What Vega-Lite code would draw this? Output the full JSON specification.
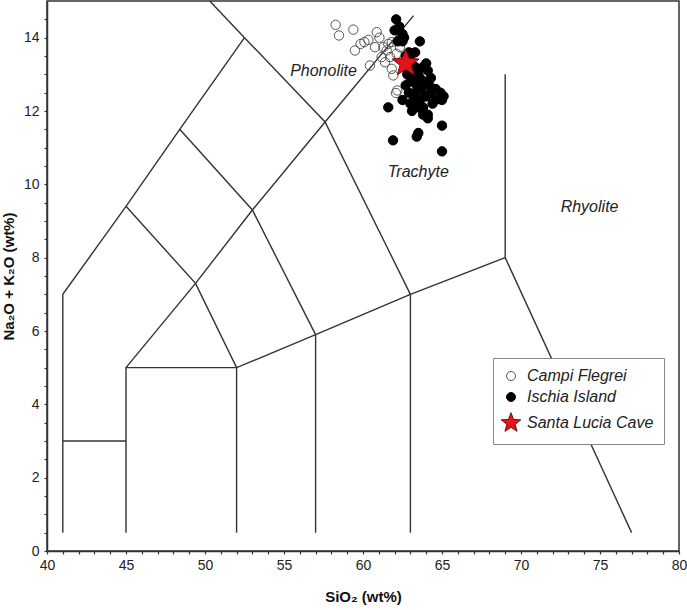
{
  "$schema": "https://vega.github.io/schema/vega-lite/v6.json",
  "width": 632,
  "height": 550,
  "autosize": {"type": "none"},
  "padding": {"left": 47, "top": 1, "right": 8, "bottom": 59},
  "background": "white",
  "config": {
    "view": {"stroke": "#333", "strokeWidth": 1.5},
    "axis": {"domainColor": "#333", "domainWidth": 1.5, "tickColor": "#333", "tickWidth": 1.2, "labelFont": "Liberation Sans", "labelFontSize": 14, "labelColor": "#222", "titleFont": "Liberation Sans", "titleColor": "#111", "grid": false},
    "legend": {"orient": "none", "legendX": 446, "legendY": 357, "fillColor": "white", "strokeColor": "#888", "padding": 10, "rowPadding": 5, "symbolSize": 80, "symbolStrokeWidth": 1, "labelOffset": 8, "labelFont": "Liberation Sans", "labelFontSize": 16, "labelFontStyle": "italic", "labelColor": "#222"}
  },
  "resolve": {"axis": {"x": "independent", "y": "independent"}},
  "datasets": {
    "seglines": [
      {"s": "A", "o": 1, "x": 41, "y": 0.5}, {"s": "A", "o": 2, "x": 41, "y": 7}, {"s": "A", "o": 3, "x": 45, "y": 9.4}, {"s": "A", "o": 4, "x": 48.4, "y": 11.5}, {"s": "A", "o": 5, "x": 52.5, "y": 14},
      {"s": "B", "o": 1, "x": 41, "y": 3}, {"s": "B", "o": 2, "x": 45, "y": 3},
      {"s": "C", "o": 1, "x": 45, "y": 0.5}, {"s": "C", "o": 2, "x": 45, "y": 5}, {"s": "C", "o": 3, "x": 52, "y": 5},
      {"s": "E", "o": 1, "x": 52, "y": 0.5}, {"s": "E", "o": 2, "x": 52, "y": 5}, {"s": "E", "o": 3, "x": 57, "y": 5.9}, {"s": "E", "o": 4, "x": 63, "y": 7}, {"s": "E", "o": 5, "x": 69, "y": 8}, {"s": "E", "o": 6, "x": 77, "y": 0.5},
      {"s": "F", "o": 1, "x": 57, "y": 0.5}, {"s": "F", "o": 2, "x": 57, "y": 5.9},
      {"s": "G", "o": 1, "x": 63, "y": 0.5}, {"s": "G", "o": 2, "x": 63, "y": 7},
      {"s": "H", "o": 1, "x": 69, "y": 8}, {"s": "H", "o": 2, "x": 69, "y": 13},
      {"s": "I", "o": 1, "x": 45, "y": 5}, {"s": "I", "o": 2, "x": 49.4, "y": 7.3}, {"s": "I", "o": 3, "x": 53, "y": 9.3}, {"s": "I", "o": 4, "x": 57.6, "y": 11.7}, {"s": "I", "o": 5, "x": 63.2, "y": 14.6},
      {"s": "J", "o": 1, "x": 45, "y": 9.4}, {"s": "J", "o": 2, "x": 49.4, "y": 7.3}, {"s": "J", "o": 3, "x": 52, "y": 5},
      {"s": "K", "o": 1, "x": 48.4, "y": 11.5}, {"s": "K", "o": 2, "x": 53, "y": 9.3}, {"s": "K", "o": 3, "x": 57, "y": 5.9},
      {"s": "L", "o": 1, "x": 50.3, "y": 15}, {"s": "L", "o": 2, "x": 52.5, "y": 14}, {"s": "L", "o": 3, "x": 57.6, "y": 11.7}, {"s": "L", "o": 4, "x": 63, "y": 7}
    ],
    "names": [
      {"t": "Phonolite", "x": 57.5, "y": 13.1},
      {"t": "Trachyte", "x": 63.5, "y": 10.33},
      {"t": "Rhyolite", "x": 74.34, "y": 9.38}
    ],
    "pts": [
      {"g": "Campi Flegrei", "x": 58.27, "y": 14.35}, {"g": "Campi Flegrei", "x": 58.48, "y": 14.06}, {"g": "Campi Flegrei", "x": 59.39, "y": 14.22}, {"g": "Campi Flegrei", "x": 59.49, "y": 13.65},
      {"g": "Campi Flegrei", "x": 59.85, "y": 13.83}, {"g": "Campi Flegrei", "x": 60.09, "y": 13.88}, {"g": "Campi Flegrei", "x": 60.34, "y": 13.94}, {"g": "Campi Flegrei", "x": 60.87, "y": 14.15},
      {"g": "Campi Flegrei", "x": 61.04, "y": 14.0}, {"g": "Campi Flegrei", "x": 60.44, "y": 13.24}, {"g": "Campi Flegrei", "x": 61.29, "y": 13.74}, {"g": "Campi Flegrei", "x": 61.6, "y": 13.83},
      {"g": "Campi Flegrei", "x": 61.39, "y": 13.33}, {"g": "Campi Flegrei", "x": 61.71, "y": 13.47}, {"g": "Campi Flegrei", "x": 61.82, "y": 13.15}, {"g": "Campi Flegrei", "x": 61.92, "y": 12.97},
      {"g": "Campi Flegrei", "x": 62.17, "y": 12.56}, {"g": "Campi Flegrei", "x": 62.09, "y": 12.49}, {"g": "Campi Flegrei", "x": 62.13, "y": 13.56}, {"g": "Campi Flegrei", "x": 61.82, "y": 13.88},
      {"g": "Campi Flegrei", "x": 61.18, "y": 13.47}, {"g": "Campi Flegrei", "x": 60.76, "y": 13.74}, {"g": "Campi Flegrei", "x": 62.34, "y": 13.74}, {"g": "Campi Flegrei", "x": 61.5, "y": 13.65},
      {"g": "Ischia Island", "x": 62.1, "y": 14.5}, {"g": "Ischia Island", "x": 62.3, "y": 14.3}, {"g": "Ischia Island", "x": 62.0, "y": 14.2}, {"g": "Ischia Island", "x": 62.5, "y": 14.1},
      {"g": "Ischia Island", "x": 62.2, "y": 13.9}, {"g": "Ischia Island", "x": 62.5, "y": 13.9}, {"g": "Ischia Island", "x": 63.6, "y": 13.9}, {"g": "Ischia Island", "x": 62.9, "y": 13.6},
      {"g": "Ischia Island", "x": 62.7, "y": 13.5}, {"g": "Ischia Island", "x": 63.0, "y": 13.4}, {"g": "Ischia Island", "x": 63.3, "y": 13.2}, {"g": "Ischia Island", "x": 63.8, "y": 13.2},
      {"g": "Ischia Island", "x": 64.1, "y": 13.1}, {"g": "Ischia Island", "x": 63.5, "y": 13.0}, {"g": "Ischia Island", "x": 63.9, "y": 12.8}, {"g": "Ischia Island", "x": 63.6, "y": 12.9},
      {"g": "Ischia Island", "x": 63.4, "y": 12.7}, {"g": "Ischia Island", "x": 63.7, "y": 12.6}, {"g": "Ischia Island", "x": 64.2, "y": 12.7}, {"g": "Ischia Island", "x": 64.6, "y": 12.6},
      {"g": "Ischia Island", "x": 64.9, "y": 12.5}, {"g": "Ischia Island", "x": 65.1, "y": 12.4}, {"g": "Ischia Island", "x": 65.0, "y": 12.3}, {"g": "Ischia Island", "x": 64.6, "y": 12.3},
      {"g": "Ischia Island", "x": 64.0, "y": 12.4}, {"g": "Ischia Island", "x": 63.2, "y": 12.3}, {"g": "Ischia Island", "x": 63.6, "y": 12.3}, {"g": "Ischia Island", "x": 62.5, "y": 12.3},
      {"g": "Ischia Island", "x": 63.0, "y": 12.2}, {"g": "Ischia Island", "x": 63.8, "y": 12.1}, {"g": "Ischia Island", "x": 61.6, "y": 12.1}, {"g": "Ischia Island", "x": 63.1, "y": 12.0},
      {"g": "Ischia Island", "x": 64.1, "y": 11.9}, {"g": "Ischia Island", "x": 64.1, "y": 11.8}, {"g": "Ischia Island", "x": 65.0, "y": 11.6}, {"g": "Ischia Island", "x": 63.4, "y": 11.3},
      {"g": "Ischia Island", "x": 63.5, "y": 11.4}, {"g": "Ischia Island", "x": 61.9, "y": 11.2}, {"g": "Ischia Island", "x": 65.0, "y": 10.9}, {"g": "Ischia Island", "x": 63.3, "y": 12.5},
      {"g": "Ischia Island", "x": 63.0, "y": 12.8}, {"g": "Ischia Island", "x": 62.8, "y": 13.0}, {"g": "Ischia Island", "x": 63.2, "y": 12.9}, {"g": "Ischia Island", "x": 64.3, "y": 12.9},
      {"g": "Ischia Island", "x": 63.9, "y": 12.4}, {"g": "Ischia Island", "x": 64.4, "y": 12.2}, {"g": "Ischia Island", "x": 63.5, "y": 12.1}, {"g": "Ischia Island", "x": 62.9, "y": 12.5},
      {"g": "Ischia Island", "x": 64.0, "y": 13.3}, {"g": "Ischia Island", "x": 63.3, "y": 13.6}, {"g": "Ischia Island", "x": 63.5, "y": 12.6}, {"g": "Ischia Island", "x": 62.7, "y": 12.7},
      {"g": "Ischia Island", "x": 63.8, "y": 11.9}, {"g": "Ischia Island", "x": 64.3, "y": 12.5}, {"g": "Ischia Island", "x": 62.6, "y": 14.0}
    ],
    "starpt": [{"g": "Santa Lucia Cave", "x": 62.7, "y": 13.3}]
  },
  "layer": [
    {
      "data": {"name": "seglines"},
      "mark": {"type": "line", "color": "#333", "strokeWidth": 1.4},
      "encoding": {
        "x": {"field": "x", "type": "quantitative", "scale": {"domain": [40, 80], "nice": false, "zero": false},
          "axis": {"orient": "bottom", "values": [40, 45, 50, 55, 60, 65, 70, 75, 80], "tickSize": 3, "labelPadding": 4, "labelFlush": false, "title": "SiO₂ (wt%)", "titleFontSize": 15, "titleFontWeight": "bold", "titlePadding": 17}},
        "y": {"field": "y", "type": "quantitative", "scale": {"domain": [0, 15], "nice": false, "zero": false},
          "axis": {"orient": "left", "values": [0, 2, 4, 6, 8, 10, 12, 14], "tickSize": 3, "labelPadding": 5, "labelFlush": false, "title": "Na₂O + K₂O (wt%)", "titleFontSize": 15, "titleFontWeight": "bold", "titlePadding": 7}},
        "detail": {"field": "s", "type": "nominal"},
        "order": {"field": "o", "type": "quantitative"}
      }
    },
    {
      "data": {"name": "names"},
      "mark": {"type": "text", "font": "Liberation Sans", "fontSize": 16, "fontStyle": "italic", "color": "#222"},
      "encoding": {
        "x": {"field": "x", "type": "quantitative", "axis": {"orient": "bottom", "values": [41,42,43,44,46,47,48,49,51,52,53,54,56,57,58,59,61,62,63,64,66,67,68,69,71,72,73,74,76,77,78,79], "labels": false, "domain": false, "title": null, "tickSize": 3}},
        "y": {"field": "y", "type": "quantitative", "axis": {"orient": "left", "values": [0.5,1,1.5,2.5,3,3.5,4.5,5,5.5,6.5,7,7.5,8.5,9,9.5,10.5,11,11.5,12.5,13,13.5,14.5], "labels": false, "domain": false, "title": null, "tickSize": 3}},
        "text": {"field": "t", "type": "nominal"}
      }
    },
    {
      "data": {"name": "pts"},
      "mark": {"type": "point", "filled": true, "size": 88, "strokeWidth": 1, "opacity": 1},
      "encoding": {
        "x": {"field": "x", "type": "quantitative", "axis": null},
        "y": {"field": "y", "type": "quantitative", "axis": null},
        "fill": {"field": "g", "type": "nominal", "scale": {"domain": ["Campi Flegrei", "Ischia Island", "Santa Lucia Cave"], "range": ["transparent", "#000000", "#e3121b"]}, "legend": {"title": null}},
        "stroke": {"field": "g", "type": "nominal", "scale": {"domain": ["Campi Flegrei", "Ischia Island", "Santa Lucia Cave"], "range": ["#555555", "#000000", "#7a0a0a"]}, "legend": {"title": null}},
        "shape": {"field": "g", "type": "nominal", "scale": {"domain": ["Campi Flegrei", "Ischia Island", "Santa Lucia Cave"], "range": ["circle", "circle", "M0,-2.3L0.568,-0.782L2.187,-0.711L0.92,0.299L1.352,1.861L0,0.966L-1.352,1.861L-0.92,0.299L-2.187,-0.711L-0.568,-0.782Z"]}, "legend": {"title": null}}
      }
    },
    {
      "data": {"name": "starpt"},
      "mark": {"type": "point", "filled": true, "size": 800, "strokeWidth": 1, "opacity": 1, "shape": "M0,-1L0.247,-0.34L0.951,-0.309L0.4,0.13L0.588,0.809L0,0.42L-0.588,0.809L-0.4,0.13L-0.951,-0.309L-0.247,-0.34Z"},
      "encoding": {
        "x": {"field": "x", "type": "quantitative", "axis": null},
        "y": {"field": "y", "type": "quantitative", "axis": null},
        "fill": {"field": "g", "type": "nominal"},
        "stroke": {"field": "g", "type": "nominal"}
      }
    }
  ]
}
